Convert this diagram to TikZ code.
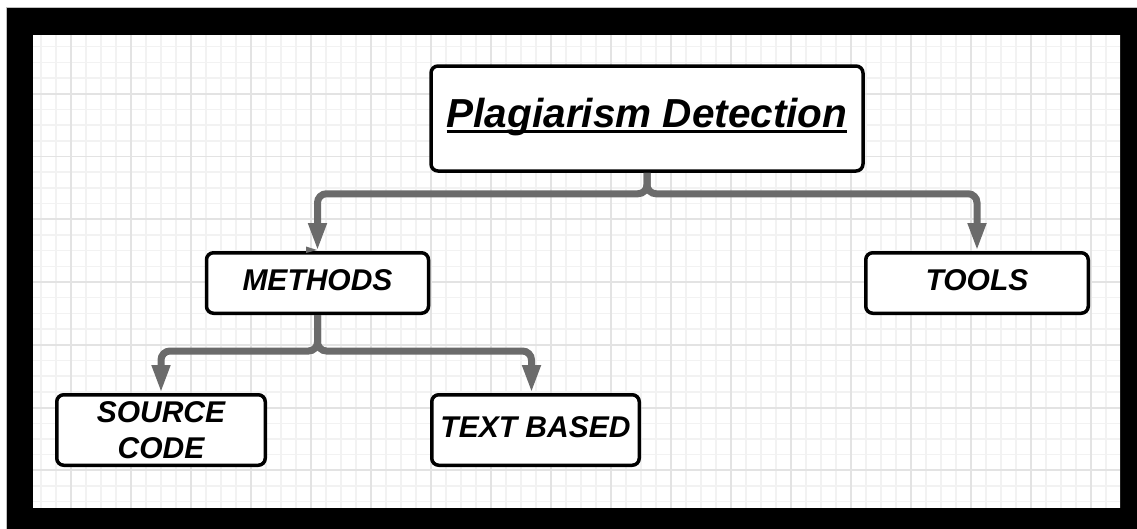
\documentclass[tikz,border=0pt]{standalone}
\usepackage{fontspec}
\setmainfont{Liberation Sans}
\usetikzlibrary{arrows.meta}
\definecolor{linkgray}{HTML}{6B6B6B}
\definecolor{gridminor}{HTML}{F2F2F2}
\definecolor{gridmajor}{HTML}{E3E3E3}
% underline that cuts through the descenders, as in the heading
\newcommand\headul[1]{\setbox0\hbox{#1}\rlap{\rule[-5.5pt]{\wd0}{3pt}}\box0}
\begin{document}
\begin{tikzpicture}[x=1pt,y=-1pt,
  box/.style={draw=black, line width=3.5pt, fill=white, rounded corners=7pt, inner sep=0pt},
  lbl/.style={font=\fontsize{30}{36.6}\selectfont\bfseries\itshape},
  oneline/.style={text height=21pt, text depth=7pt},
  link/.style={draw=linkgray, line width=7pt, rounded corners=9pt,
    -{Triangle[length=28pt,width=17pt]}},
]
\useasboundingbox (0,0) rectangle (1137,528);
% frame
\fill[white] (0,0) rectangle (1137,528);
\filldraw[fill=black, draw=gray!50, line width=0.8pt] (6,7) rectangle (1140,531);
\fill[white] (33,35) rectangle (1120,508);
% grid paper
\begin{scope}
  \clip (33,35) rectangle (1120,508);
  \foreach \i in {-1,...,72}
    \draw[gridminor, line width=1.5pt] ({41+15*\i},35) -- ({41+15*\i},508);
  \foreach \j in {-1,...,30}
    \draw[gridminor, line width=1.5pt] (33,{46.7+15.69*\j}) -- (1120,{46.7+15.69*\j});
  \foreach \i in {-1,...,18}
    \draw[gridmajor, line width=1.8pt] ({71+60*\i},35) -- ({71+60*\i},508);
  \foreach \j in {-1,...,7}
    \draw[gridmajor, line width=1.8pt] (33,{93.8+62.76*\j}) -- (1120,{93.8+62.76*\j});
\end{scope}
% nodes
\node[box, minimum width=432pt, minimum height=105pt, text height=30pt, text depth=13pt,
  font=\fontsize{40.5}{44}\selectfont\bfseries\itshape] (pd) at (647,118.5)
  {\headul{Plagiarism Detection}};
\node[box, lbl, oneline, minimum width=222pt, minimum height=60.5pt] (me) at (317.5,283) {METHODS};
\node[box, lbl, oneline, minimum width=222.5pt, minimum height=60.5pt] (to) at (977,283) {TOOLS};
\node[box, lbl, align=center, minimum width=208.5pt, minimum height=70.5pt] (sc) at (161,430) {SOURCE\\CODE};
\node[box, lbl, oneline, minimum width=207.5pt, minimum height=70.5pt] (tb) at (535.5,430) {TEXT BASED};
% connectors
\draw[link] (pd.south) -- ++(0,21) -| (me.north);
\draw[link] (pd.south) -- ++(0,21) -| (to.north);
\draw[link] (me.south) -- ++(0,36) -| (sc.north);
\draw[link] (me.south) -- ++(0,36) -| ([xshift=-4pt]tb.north);
% small wedge beside the METHODS arrowhead
\fill[linkgray] (306,246.5) -- (317,250) -- (306,253) -- cycle;
\end{tikzpicture}
\end{document}
